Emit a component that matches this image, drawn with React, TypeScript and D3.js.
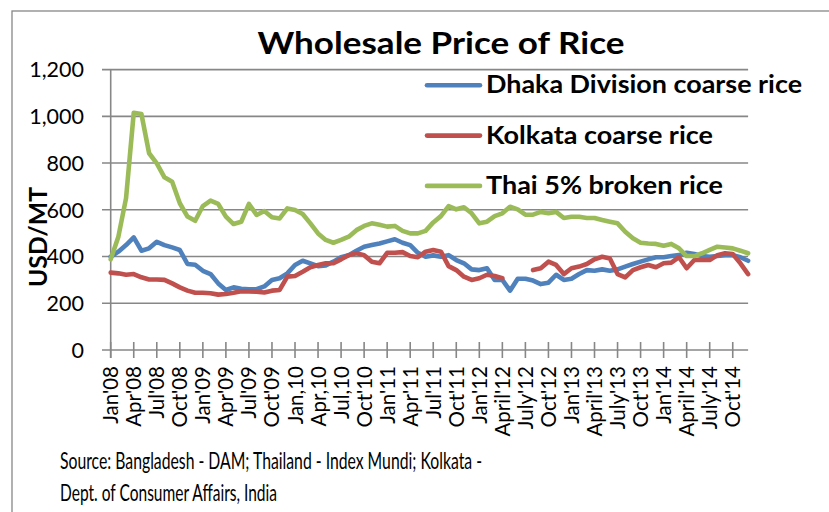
import React from "react";
import * as d3 from "d3";

const WIDTH = 829;
const HEIGHT = 512;

// monthly categories Jan'08 .. Dec'14
const MONTHS = d3.range(84).map((i) => `m${i}`);

const TICK_LABELS = [
  "Jan'08", "Apr'08", "Jul'08", "Oct'08",
  "Jan'09", "Apr'09", "Jul'09", "Oct'09",
  "Jan,10", "Apr,10", "Jul,10", "Oct'10",
  "Jan'11", "Apr'11", "Jul'11", "Oct'11",
  "Jan'12", "April'12", "July'12", "Oct'12",
  "Jan'13", "April'13", "July'13", "Oct'13",
  "Jan'14", "April'14", "July'14", "Oct'14",
];

const DHAKA = [
  399, 421, 449, 482, 425, 435, 463, 449, 439, 428, 368, 365, 339, 325, 285, 257, 268, 262, 260, 260, 272, 300,
  307, 328, 364, 382, 371, 359, 362, 378, 397, 406, 425, 442, 449, 456, 465, 474, 459, 449, 416, 399, 405,
  399, 406, 385, 371, 345, 342, 350, 300, 300, 254, 305, 305, 297, 282, 288, 322, 300, 305, 325, 342, 339,
  345, 339, 345, 357, 368, 378, 388, 397, 397, 402, 406, 416, 411, 402, 399, 402, 406, 406, 397, 382,
];

const KOLKATA = [
  331, 328, 322, 325, 311, 302, 302, 300, 285, 268, 254, 245, 245, 243, 237, 240, 245, 251, 251, 249, 246, 254,
  257, 314, 317, 335, 354, 364, 371, 371, 388, 406, 414, 406, 378, 371, 416, 416, 419, 402, 397, 421, 428,
  421, 359, 342, 314, 300, 307, 322, 317, 307, null, null, null, 342, 350, 378, 364, 325, 350, 357, 368, 388,
  399, 392, 325, 311, 342, 354, 364, 354, 371, 374, 397, 350, 385, 385, 385, 406, 414, 411, 371, 325,
];

const THAI = [
  388, 485, 650, 1015, 1010, 842, 799, 739, 720, 628, 571, 553, 616, 639, 625, 571, 539, 549, 625, 578, 595, 568,
  563, 606, 599, 582, 542, 499, 471, 459, 471, 485, 513, 531, 542, 536, 528, 531, 510, 499, 499, 510, 546,
  573, 616, 602, 611, 585, 542, 549, 573, 585, 613, 602, 579, 579, 591, 585, 591, 565, 570, 570, 565, 565,
  556, 549, 542, 506, 478, 459, 456, 454, 446, 454, 435, 402, 402, 414, 428, 442, 439, 435, 425, 414,
];

const Y_TICKS = [0, 200, 400, 600, 800, 1000, 1200];

const SERIES = [
  { name: "Dhaka Division coarse rice", values: DHAKA, color: "#4F81BD", textLen: 316 },
  { name: "Kolkata coarse rice", values: KOLKATA, color: "#C0504D", textLen: 227 },
  { name: "Thai 5% broken rice", values: THAI, color: "#9BBB59", textLen: 237 },
];

const GRID = "#878787";
const FONT = "Lato, 'Open Sans', sans-serif";

export default function App() {
  const x = d3.scalePoint<string>().domain(MONTHS).range([110.7, 748.1]);
  const y = d3.scaleLinear().domain([0, 1200]).range([350, 69.6]);

  const line = d3
    .line<number | null>()
    .defined((d) => d !== null)
    .x((_, i) => x(MONTHS[i]) as number)
    .y((d) => y(d as number));

  const xTicks = TICK_LABELS.map((label, k) => ({ label, px: x(MONTHS[k * 3]) as number }));
  const axisEnd = x(MONTHS[MONTHS.length - 1]) as number;

  return (
    <svg
      width={WIDTH}
      height={HEIGHT}
      style={{ position: "absolute", left: 0, top: 0, background: "#fff" }}
      fontFamily={FONT}
    >
      <rect x={12} y={11} width={900} height={600} fill="#fff" stroke={GRID} strokeWidth={1.3} />

      <text x={441} y={54} textAnchor="middle" fontSize={31} fontWeight="bold" textLength={367} lengthAdjust="spacingAndGlyphs">
        Wholesale Price of Rice
      </text>

      {/* gridlines + y ticks */}
      {Y_TICKS.map((t) => (
        <g key={t}>
          <line x1={102} x2={axisEnd} y1={y(t)} y2={y(t)} stroke={GRID} strokeWidth={1.6} />
          <text x={84} y={y(t)} dy="0.36em" textAnchor="end" fontSize={21.5}>
            {d3.format(",")(t)}
          </text>
        </g>
      ))}
      <line x1={110.7} x2={110.7} y1={y(1200)} y2={358} stroke={GRID} strokeWidth={1.6} />

      {/* x ticks and labels */}
      {xTicks.map((t) => (
        <g key={t.label}>
          <line x1={t.px} x2={t.px} y1={342} y2={358} stroke={GRID} strokeWidth={1.6} />
          <text
            transform={`translate(${t.px + 7.5},366) rotate(-90)`}
            textAnchor="end"
            fontSize={20.5}
          >
            {t.label}
          </text>
        </g>
      ))}

      <text transform="translate(47,237) rotate(-90)" textAnchor="middle" fontSize={24} fontWeight="bold" textLength={100} lengthAdjust="spacingAndGlyphs">
        USD/MT
      </text>

      {/* series */}
      {SERIES.map((s) => (
        <path
          key={s.name}
          d={line(s.values) || ""}
          fill="none"
          stroke={s.color}
          strokeWidth={4.6}
          strokeLinejoin="round"
          strokeLinecap="round"
        />
      ))}

      {/* legend */}
      {SERIES.map((s, i) => {
        const ly = 85.3 + i * 50.3;
        return (
          <g key={s.name}>
            <line x1={427} x2={480} y1={ly} y2={ly} stroke={s.color} strokeWidth={4.6} strokeLinecap="round" />
            <text x={486} y={ly + 8} fontSize={24} fontWeight="bold" textLength={s.textLen} lengthAdjust="spacingAndGlyphs">
              {s.name}
            </text>
          </g>
        );
      })}

      <text x={60} y={469} fontSize={22.5} textLength={422} lengthAdjust="spacingAndGlyphs">
        Source: Bangladesh - DAM; Thailand - Index Mundi; Kolkata -
      </text>
      <text x={60} y={501} fontSize={22.5} textLength={217} lengthAdjust="spacingAndGlyphs">
        Dept. of Consumer Affairs, India
      </text>
    </svg>
  );
}
